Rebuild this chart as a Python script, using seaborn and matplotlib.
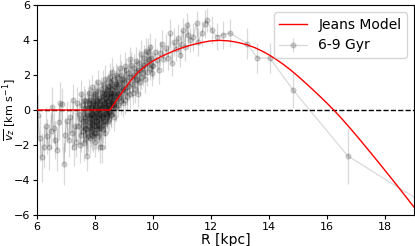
import matplotlib
matplotlib.use("Agg")
import matplotlib.pyplot as plt
import seaborn as sns
import pandas as pd

# ---- Jeans model curve ----
model_R = [6.0, 7.0, 8.0, 8.52, 8.6, 8.75, 9.0, 9.25, 9.5, 9.75, 10.0, 10.25, 10.5,
           10.75, 11.0, 11.25, 11.5, 11.75, 12.0, 12.3, 12.6, 12.8, 13.0, 13.25,
           13.5, 13.75, 14.0, 14.25, 14.5, 14.75, 15.0, 15.25, 15.5, 15.75, 16.0,
           16.25, 16.5, 16.75, 17.0, 17.25, 17.5, 17.75, 18.0, 18.25, 18.5, 18.75, 19.0]
model_vz = [0.0, 0.0, 0.0, 0.0, 0.2, 0.58, 1.17, 1.72, 2.18, 2.53, 2.8, 3.03, 3.22,
            3.4, 3.55, 3.68, 3.79, 3.88, 3.95, 3.98, 3.95, 3.9, 3.83, 3.72,
            3.57, 3.38, 3.15, 2.89, 2.6, 2.28, 1.93, 1.56, 1.18, 0.79, 0.39,
            -0.03, -0.48, -0.95, -1.43, -1.93, -2.43, -2.94, -3.45, -3.97, -4.49, -5.02, -5.55]

# ---- 6-9 Gyr data points (group A) ----
data_R = [6.02, 6.10, 6.16, 6.23, 6.30, 6.34, 6.40, 6.47, 6.52, 6.57,
          6.62, 6.70, 6.75, 6.80, 6.85, 6.92, 6.97, 7.03, 7.09, 7.15,
          7.20, 7.24, 7.26, 7.31, 7.35, 7.38, 7.43, 7.46, 7.49, 7.53,
          7.57, 7.60, 7.64, 7.68, 7.71, 7.74, 7.77, 7.80,
          7.82, 7.84, 7.85, 7.87, 7.88, 7.90, 7.91, 7.93, 7.94, 7.95,
          7.97, 7.98, 8.00, 8.01, 8.02, 8.04, 8.05, 8.06, 8.08, 8.09,
          8.10, 8.12, 8.13, 8.14, 8.16, 8.17, 8.18, 8.20, 8.21, 8.22,
          8.24, 8.25, 8.27, 8.28, 8.30, 8.31, 8.33, 8.34, 8.36, 8.38,
          8.39, 8.41, 8.43, 8.45, 8.47, 8.49, 8.51, 8.53, 8.55, 8.57,
          8.59, 8.62, 8.64, 8.66, 8.69, 8.71, 8.74, 8.76, 8.79, 8.82,
          8.85, 8.88, 8.91, 8.94, 8.97,
          9.00, 9.04, 9.08, 9.12, 9.16, 9.20, 9.24, 9.28, 9.33, 9.37,
          9.42, 9.46, 9.51, 9.55, 9.60, 9.65, 9.70, 9.75, 9.80, 9.85,
          9.90, 9.95,
          10.01, 10.06, 10.13, 10.19, 10.24, 10.30, 10.36, 10.46, 10.52, 10.59,
          10.64, 10.72, 10.80, 10.87, 10.93, 10.98, 11.04, 11.10, 11.16, 11.22,
          11.28, 11.39, 11.50, 11.55, 11.68, 11.78, 11.85, 12.02, 12.20, 12.40,
          12.66, 13.24, 13.60, 14.03, 14.83, 16.72, 19.60]
data_vz = [-0.3, -1.6, -2.7, -2.1, -0.9, -1.5, -2.1, -1.2, 0.2, -1.0,
           -1.7, -2.3, -0.7, 0.4, 0.35, -3.1, -1.4, -0.6, -1.7, -0.4,
           -1.3, 0.6, -2.1, -0.9, -1.8, 0.4, -0.9, -0.2, -2.0, 0.9,
           -1.2, -0.6, 0.1, -1.6, -2.6, -0.3, 0.5, 1.0,
           -0.4, 0.6, -1.2, 0.1, -0.7, 1.3, -0.2, -1.5, 0.4, -0.9,
           0.8, -0.3, -1.8, 0.2, -0.6, 1.1, -0.1, -1.1, 0.5, -0.4,
           1.6, 0.0, -0.8, 0.7, -2.1, 0.3, -0.5, 1.2, 0.1, -1.0,
           0.6, -0.3, 1.5, 0.2, -0.7, 0.9, -1.3, 0.4, 1.8, -0.2,
           0.7, 0.0, 1.2, -0.6, 0.9, 0.3, 1.9, -0.1, 1.0, 0.5,
           2.2, 0.6, -0.4, 1.4, 0.8, 2.0, 0.2, 1.1, 1.6, 0.7,
           2.4, 1.3, 0.5, 1.8, 1.2,
           1.6, 0.6, 2.3, 1.1, 1.9, 0.9, 2.6, 1.5, 2.0, 1.2,
           2.8, 1.8, 2.3, 1.6, 3.2, 2.1, 2.6, 3.4, 2.2, 2.9,
           3.6, 2.1,
           2.5, 3.3, 2.86, 2.3, 3.24, 3.8, 2.9, 3.52, 3.0, 4.38,
           2.67, 3.9, 3.5, 4.1, 3.14, 3.8, 4.57, 3.6, 4.86, 4.3,
           4.0, 4.19, 4.95, 3.9, 4.38, 4.9, 5.14, 4.57, 4.2, 4.29,
           4.4, 3.8, 2.97, 2.97, 1.14, -2.63, -5.6]
data_err = [1.2, 1.3, 1.4, 1.2, 1.1, 1.0, 1.3, 1.0, 1.1, 0.9,
            1.1, 1.2, 1.0, 1.2, 0.9, 1.2, 1.0, 1.1, 1.0, 0.9,
            1.0, 0.9, 1.1, 0.8, 0.9, 0.9, 0.8, 0.9, 1.0, 0.8,
            0.8, 0.8, 0.9, 0.9, 0.9, 0.7, 0.8, 0.8,
            0.8, 0.7, 0.9, 0.7, 0.8, 0.7, 0.8, 0.9, 0.7, 0.8,
            0.7, 0.8, 0.9, 0.7, 0.8, 0.7, 0.8, 0.8, 0.7, 0.8,
            0.7, 0.8, 0.7, 0.8, 0.9, 0.7, 0.8, 0.7, 0.8, 0.7,
            0.8, 0.7, 0.8, 0.7, 0.8, 0.7, 0.9, 0.7, 0.8, 0.7,
            0.8, 0.7, 0.8, 0.7, 0.8, 0.7, 0.8, 0.7, 0.8, 0.7,
            0.8, 0.7, 0.8, 0.7, 0.8, 0.7, 0.8, 0.7, 0.8, 0.7,
            0.8, 0.7, 0.8, 0.7, 0.8,
            0.8, 0.8, 0.7, 0.8, 0.7, 0.8, 0.7, 0.8, 0.7, 0.8,
            0.8, 0.7, 0.8, 0.7, 0.8, 0.7, 0.8, 0.7, 0.8, 0.7,
            0.8, 0.7,
            0.7, 0.8, 0.7, 0.8, 0.7, 0.8, 0.7, 0.8, 0.7, 0.8,
            0.7, 0.8, 0.7, 0.8, 0.7, 0.8, 0.7, 0.8, 0.7, 0.8,
            0.7, 0.8, 0.7, 0.8, 0.7, 0.8, 0.7, 0.8, 0.8, 0.8,
            0.8, 0.9, 0.86, 0.86, 1.0, 1.57, 1.6]

# ---- 6-9 Gyr data points (group B, inner disc) ----
extra_R = [7.50, 7.52, 7.55, 7.58, 7.61, 7.63, 7.66, 7.69, 7.72, 7.75,
           7.78, 7.81, 7.83, 7.86, 7.89, 7.92, 7.96, 7.99, 8.03, 8.07,
           8.11, 8.15, 8.19, 8.23, 8.26, 8.29, 8.32, 8.35, 8.37, 8.40,
           8.42, 8.44, 8.46, 8.48, 8.50, 8.52, 8.54, 8.56, 8.58, 8.61,
           8.63, 8.65, 8.68, 8.70, 8.73, 8.75, 8.78, 8.81, 8.84, 8.87,
           8.90, 8.93, 8.96, 8.99, 9.02, 9.06, 9.10, 9.14, 9.18, 9.22,
           9.26, 9.31, 9.35, 9.40, 9.44, 9.49, 9.53, 9.58, 9.63, 9.68,
           9.73, 9.78, 9.83, 9.88, 9.93, 9.98]
extra_vz = [-0.5, -1.4, 0.3, -0.9, -1.9, 0.6, -0.4, -1.1, 0.2, -1.5,
            -0.7, 0.4, -1.0, -0.2, -1.4, 0.3, -0.6, 0.9, -1.3, -0.3,
            0.4, -0.9, -0.1, -2.1, 0.8, -0.4, 0.3, -0.8, 1.0, -0.3,
            0.5, 1.4, 0.1, -0.5, 0.8, 1.6, 0.3, -0.2, 1.2, 0.4,
            1.7, 0.9, 0.1, 1.3, 0.6, 1.9, 0.9, 0.3, 1.5, 0.8,
            2.0, 1.1, 0.4, 1.7, 2.5, 1.3, 0.8, 2.1, 1.4, 2.9,
            1.9, 1.0, 2.4, 1.7, 2.2, 0.9, 2.7, 1.9, 2.4, 3.0,
            1.8, 2.7, 3.3, 2.4, 3.0, 2.6]
extra_err = [0.9, 1.0, 0.8, 0.9, 1.0, 0.8, 0.9, 0.8, 0.9, 0.9,
             0.8, 0.8, 0.9, 0.8, 0.9, 0.8, 0.8, 0.8, 0.9, 0.8,
             0.7, 0.8, 0.7, 0.9, 0.8, 0.7, 0.8, 0.7, 0.8, 0.7,
             0.8, 0.7, 0.8, 0.7, 0.8, 0.7, 0.8, 0.7, 0.8, 0.7,
             0.8, 0.7, 0.8, 0.7, 0.8, 0.7, 0.8, 0.7, 0.8, 0.7,
             0.8, 0.7, 0.8, 0.7, 0.8, 0.7, 0.8, 0.7, 0.8, 0.7,
             0.8, 0.7, 0.8, 0.7, 0.8, 0.7, 0.8, 0.7, 0.8, 0.7,
             0.8, 0.7, 0.8, 0.7, 0.8, 0.7]

# ---- 6-9 Gyr data points (group C, solar neighbourhood core) ----
core_R = [7.62, 7.65, 7.67, 7.70, 7.73, 7.76, 7.79, 7.815, 7.835, 7.855,
          7.875, 7.895, 7.915, 7.935, 7.955, 7.975, 7.995, 8.015, 8.035, 8.055,
          8.075, 8.095, 8.115, 8.135, 8.155, 8.175, 8.195, 8.215, 8.235, 8.255,
          8.275, 8.295, 8.315, 8.335, 8.355, 8.375, 8.395, 8.415, 8.435, 8.455,
          8.475, 8.495, 8.515, 8.535, 8.555, 8.575, 8.60, 8.67, 8.72, 8.77]
core_vz = [-0.2, -1.0, 0.5, -0.6, -1.3, 0.1, -0.9, -0.3, -1.6, 0.2,
           -0.5, -1.1, 0.5, -0.8, 0.0, -1.3, -0.4, 0.3, -0.9, 0.6,
           -0.6, -1.5, 0.2, -0.2, -1.0, 0.5, -0.7, 0.1, -0.4, 1.0,
           -1.1, 0.4, -0.2, 0.7, -0.6, 0.2, 1.1, -0.4, 0.5, -0.1,
           1.3, 0.2, 0.7, -0.3, 1.0, 0.4, 0.8, 0.3, 1.5, 1.0]
core_err = [0.8, 0.9, 0.7, 0.8, 0.9, 0.7, 0.8, 0.7, 0.9, 0.7,
            0.8, 0.8, 0.7, 0.8, 0.7, 0.9, 0.7, 0.8, 0.8, 0.7,
            0.8, 0.9, 0.7, 0.8, 0.8, 0.7, 0.8, 0.7, 0.8, 0.7,
            0.8, 0.7, 0.8, 0.7, 0.8, 0.7, 0.8, 0.7, 0.8, 0.7,
            0.8, 0.7, 0.8, 0.7, 0.8, 0.7, 0.8, 0.7, 0.8, 0.7]

assert len(data_R) == len(data_vz) == len(data_err)
assert len(extra_R) == len(extra_vz) == len(extra_err)
assert len(core_R) == len(core_vz) == len(core_err)
assert len(model_R) == len(model_vz)

obs = pd.concat([
    pd.DataFrame({"R": data_R, "vz": data_vz, "err": data_err}),
    pd.DataFrame({"R": extra_R, "vz": extra_vz, "err": extra_err}),
    pd.DataFrame({"R": core_R, "vz": core_vz, "err": core_err}),
]).sort_values("R")
model_df = pd.DataFrame({"R": model_R, "vz": model_vz})

fig = plt.figure(figsize=(4.15, 2.46), dpi=100)
ax = fig.add_axes([37 / 415, 1 - 215 / 246, (414 - 37) / 415, (215 - 5) / 246])

ax.errorbar(obs["R"], obs["vz"], yerr=obs["err"], fmt="o-", color="k", alpha=0.15,
            ms=3.5, lw=0.9, elinewidth=0.9, label="6-9 Gyr", zorder=2)
sns.lineplot(data=model_df, x="R", y="vz", color="red", lw=1.0,
             label="Jeans Model", ax=ax, zorder=3)
ax.axhline(0, color="k", ls="--", lw=1.0, zorder=1)

ax.set_xlim(6, 19)
ax.set_ylim(-6, 6)
ax.set_xticks([6, 8, 10, 12, 14, 16, 18])
ax.set_yticks([-6, -4, -2, 0, 2, 4, 6])
ax.tick_params(labelsize=8, length=3, pad=2)
ax.set_xlabel("R [kpc]", fontsize=10, labelpad=1)
ax.set_ylabel(r"$\overline{v_z}$ [km s$^{-1}$]", fontsize=8)
ax.yaxis.set_label_coords(-0.047, 0.5)

handles, labels = ax.get_legend_handles_labels()
order = [labels.index("Jeans Model"), labels.index("6-9 Gyr")]
ax.legend([handles[i] for i in order], [labels[i] for i in order],
          loc="upper right", fontsize=10)

fig.savefig("out.png", dpi=100)
